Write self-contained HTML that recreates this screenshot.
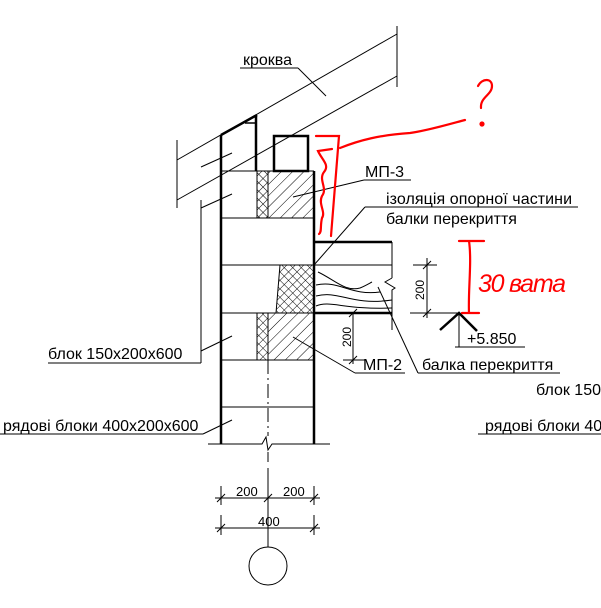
<!DOCTYPE html>
<html><head><meta charset="utf-8"><style>
html,body{margin:0;padding:0;background:#fff;}
svg{display:block;}
text{font-family:"Liberation Sans",sans-serif;font-size:16px;fill:#000;}
</style></head><body>
<svg width="601" height="608" viewBox="0 0 601 608" xmlns="http://www.w3.org/2000/svg">
<defs>
<pattern id="diag" width="8" height="8" patternUnits="userSpaceOnUse" patternTransform="rotate(45)">
<line x1="0" y1="0" x2="0" y2="8" stroke="#000" stroke-width="1"/>
</pattern>
<pattern id="cross" width="6" height="6" patternUnits="userSpaceOnUse" patternTransform="rotate(45)">
<line x1="0" y1="0" x2="0" y2="6" stroke="#000" stroke-width="1"/>
<line x1="0" y1="0" x2="6" y2="0" stroke="#000" stroke-width="1"/>
</pattern>
</defs>
<g stroke="#000" fill="none" stroke-width="1">
<line x1="177" y1="160" x2="397" y2="34"/>
<line x1="177" y1="200" x2="397" y2="76"/>
<line x1="397" y1="26" x2="397" y2="87"/>
<line x1="177" y1="140" x2="177" y2="208"/>
<line x1="201" y1="200" x2="201" y2="363"/>
<line x1="201" y1="167" x2="232" y2="153"/>
<line x1="201" y1="208" x2="232" y2="194"/>
<line x1="240" y1="68" x2="298" y2="68"/>
<line x1="298" y1="68" x2="326" y2="96"/>
<rect x="257" y="171" width="11" height="47" fill="url(#cross)" stroke="none"/>
<rect x="268" y="171" width="46" height="47" fill="url(#diag)" stroke="none"/>
<polygon points="280,265 314,265 314,313 276,313" fill="url(#cross)" stroke="none"/>
<rect x="257" y="313" width="11" height="47" fill="url(#cross)" stroke="none"/>
<rect x="268" y="313" width="46" height="47" fill="url(#diag)" stroke="none"/>
<line x1="257" y1="171" x2="257" y2="218"/>
<line x1="268" y1="171" x2="268" y2="218"/>
<line x1="257" y1="313" x2="257" y2="360"/>
<line x1="268" y1="313" x2="268" y2="360"/>
<line x1="280" y1="265" x2="276" y2="313"/>
<line x1="221" y1="171" x2="314" y2="171"/>
<line x1="221" y1="218" x2="314" y2="218"/>
<line x1="221" y1="265" x2="392" y2="265"/>
<line x1="221" y1="313" x2="314" y2="313"/>
<line x1="221" y1="360" x2="314" y2="360"/>
<line x1="221" y1="407" x2="314" y2="407"/>
<path d="M208,444 H262 L266,437 L268,450 L272,444 H330"/>
<line x1="268" y1="360" x2="268" y2="436" stroke-dasharray="14,4,2,4"/>
<line x1="268" y1="452" x2="268" y2="462"/>
<line x1="392" y1="242" x2="392" y2="278"/>
<path d="M392,278 L385,282 L395,288 L392,290 L392,330"/>
<path d="M318,272 C335,280 345,292 360,288 C365,286 370,283 372,282"/>
<path d="M316,285 C340,280 350,296 380,292"/>
<path d="M316,296 C340,290 350,306 392,300"/>
<path d="M316,306 C330,300 345,310 392,308"/>
<line x1="364" y1="180" x2="411" y2="180"/>
<line x1="364" y1="180" x2="293" y2="197"/>
<line x1="365" y1="207" x2="578" y2="207"/>
<line x1="365" y1="207" x2="314" y2="265"/>
<line x1="355" y1="373" x2="405" y2="373"/>
<line x1="355" y1="373" x2="293" y2="337"/>
<line x1="418" y1="373" x2="560" y2="373"/>
<line x1="418" y1="373" x2="378" y2="287"/>
<line x1="48" y1="363" x2="201" y2="363"/>
<line x1="201" y1="351" x2="232" y2="336"/>
<line x1="0" y1="434" x2="203" y2="434"/>
<line x1="203" y1="434" x2="232" y2="420"/>
<line x1="478" y1="434" x2="601" y2="434"/>
<line x1="427" y1="258" x2="427" y2="318"/>
<line x1="413" y1="265" x2="437" y2="265"/>
<line x1="410" y1="313" x2="460" y2="313"/>
<line x1="423" y1="269" x2="431" y2="261"/>
<line x1="423" y1="317" x2="431" y2="309"/>
<line x1="353" y1="313" x2="353" y2="364"/>
<line x1="343" y1="360" x2="365" y2="360"/>
<line x1="349" y1="317" x2="357" y2="309"/>
<line x1="349" y1="364" x2="357" y2="356"/>
<line x1="459" y1="313" x2="459" y2="347"/>
<line x1="455" y1="347" x2="525" y2="347"/>
<line x1="215" y1="498" x2="320" y2="498"/>
<line x1="215" y1="528" x2="320" y2="528"/>
<line x1="221" y1="486" x2="221" y2="505"/>
<line x1="314" y1="486" x2="314" y2="505"/>
<line x1="268" y1="468" x2="268" y2="547"/>
<line x1="221" y1="515" x2="221" y2="535"/>
<line x1="314" y1="515" x2="314" y2="535"/>
<line x1="217" y1="502" x2="225" y2="494"/>
<line x1="264" y1="502" x2="272" y2="494"/>
<line x1="310" y1="502" x2="318" y2="494"/>
<line x1="217" y1="532" x2="225" y2="524"/>
<line x1="310" y1="532" x2="318" y2="524"/>
<circle cx="268" cy="566" r="19"/>
</g>
<g stroke="#000" fill="none" stroke-width="2.5">
<line x1="221" y1="135" x2="221" y2="444"/>
<line x1="221" y1="135" x2="257" y2="115"/>
<line x1="256" y1="115" x2="256" y2="171"/>
<line x1="314" y1="171" x2="314" y2="444"/>
<rect x="274" y="136" width="34" height="35"/>
<line x1="314" y1="242" x2="392" y2="242"/>
<line x1="314" y1="313" x2="392" y2="313"/>
<path d="M440,330 L459,313 L477,331"/>
</g>
<line x1="245" y1="123" x2="257" y2="123" stroke="#000" stroke-width="1.5"/>
<text x="243" y="65">кроква</text>
<text x="365" y="177">МП-3</text>
<text x="386" y="204" textLength="186">ізоляція опорної частини</text>
<text x="386" y="224">балки перекриття</text>
<text x="363" y="370">МП-2</text>
<text x="422" y="370">балка перекриття</text>
<text x="467" y="344">+5.850</text>
<text x="48" y="359">блок 150x200x600</text>
<text x="3" y="431">рядові блоки 400x200x600</text>
<text x="536" y="395">блок 150</text>
<text x="485" y="431">рядові блоки 400</text>
<text x="236" y="496" style="font-size:13px">200</text>
<text x="283" y="496" style="font-size:13px">200</text>
<text x="258" y="526" style="font-size:13px">400</text>
<text transform="translate(424,300) rotate(-90)" style="font-size:12px">200</text>
<text transform="translate(351,347) rotate(-90)" style="font-size:12px">200</text>
<g stroke="#f00" fill="none" stroke-width="2.2" stroke-linecap="round">
<path d="M316,136 L339,136 L331,236"/>
<path d="M340,148 C360,140 380,135 410,133 C430,130 450,124 465,120"/>
<path d="M332,149 L318,151 C322,160 330,165 324,172 C318,180 328,188 322,196 C318,204 326,212 322,218 C320,226 322,232 319,234"/>
<path d="M478,86 C482,78 492,78 492,86 C492,95 480,97 481,108"/>
<circle cx="482" cy="124" r="1.5" fill="#f00"/>
<path d="M459,241 L484,241 M469,241 C472,262 468,290 469,313 M462,313 L479,313"/>
</g>
<text x="478" y="292" style="font-size:25px;fill:#f00;font-style:italic" textLength="88">30 вата</text>
</svg>
</body></html>
